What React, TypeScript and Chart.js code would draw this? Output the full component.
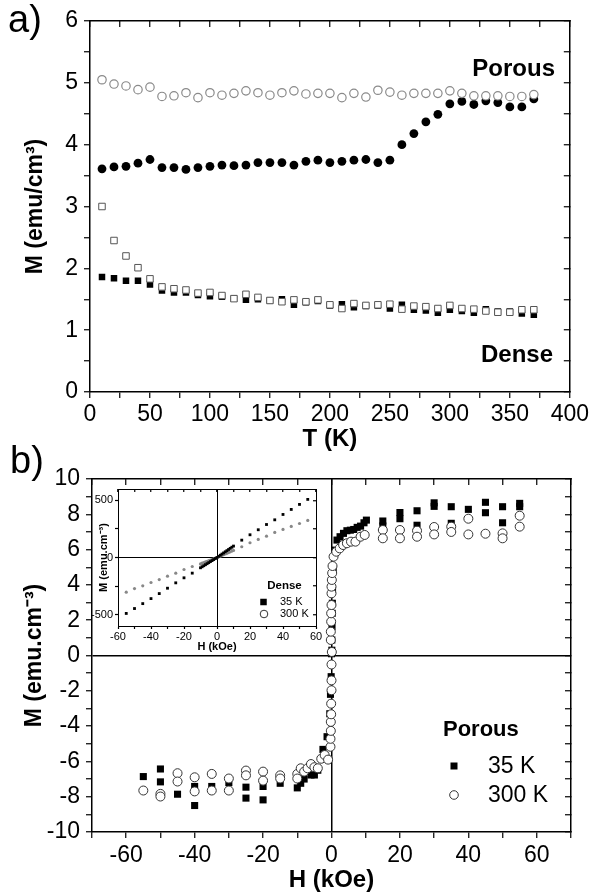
import React, { useEffect, useRef } from "react";
import { Chart, registerables } from "chart.js";

Chart.register(...registerables);

const FONT = "'Liberation Sans', Arial, Helvetica, sans-serif";

// ---------------- Panel a : M vs T ----------------
const temperatureK = [10, 20, 30, 40, 50, 60, 70, 80, 90, 100, 110, 120, 130, 140, 150, 160, 170, 180, 190, 200, 210, 220, 230, 240, 250, 260, 270, 280, 290, 300, 310, 320, 330, 340, 350, 360, 370];
const porousOpenM = [5.05, 4.98, 4.95, 4.89, 4.93, 4.78, 4.79, 4.84, 4.76, 4.84, 4.8, 4.83, 4.87, 4.84, 4.8, 4.84, 4.87, 4.82, 4.83, 4.83, 4.76, 4.83, 4.77, 4.88, 4.85, 4.8, 4.83, 4.83, 4.83, 4.87, 4.83, 4.79, 4.79, 4.79, 4.78, 4.78, 4.81];
const porousFilledM = [3.61, 3.64, 3.65, 3.7, 3.76, 3.63, 3.63, 3.6, 3.63, 3.65, 3.67, 3.66, 3.67, 3.71, 3.71, 3.71, 3.67, 3.73, 3.75, 3.71, 3.73, 3.75, 3.76, 3.71, 3.75, 4.0, 4.18, 4.37, 4.49, 4.66, 4.7, 4.65, 4.71, 4.68, 4.61, 4.61, 4.74];
const denseOpenM = [3.0, 2.45, 2.2, 2.01, 1.83, 1.7, 1.67, 1.65, 1.6, 1.61, 1.56, 1.51, 1.58, 1.53, 1.48, 1.46, 1.49, 1.46, 1.49, 1.41, 1.35, 1.43, 1.4, 1.41, 1.42, 1.34, 1.39, 1.38, 1.35, 1.4, 1.35, 1.34, 1.31, 1.29, 1.29, 1.33, 1.33];
const denseFilledM = [1.86, 1.84, 1.8, 1.8, 1.74, 1.64, 1.61, 1.61, 1.57, 1.55, 1.54, 1.51, 1.49, 1.5, 1.48, 1.5, 1.41, 1.45, 1.47, 1.4, 1.42, 1.37, 1.39, 1.4, 1.35, 1.41, 1.33, 1.32, 1.28, 1.33, 1.31, 1.28, 1.34, 1.3, 1.3, 1.27, 1.25];
const aTempTicks = [0, 25, 50, 75, 100, 125, 150, 175, 200, 225, 250, 275, 300, 325, 350, 375, 400];
const aTempLabels = [0, 50, 100, 150, 200, 250, 300, 350, 400];
const aMTicks = [0, 0.5, 1, 1.5, 2, 2.5, 3, 3.5, 4, 4.5, 5, 5.5, 6];
const aMLabels = [0, 1, 2, 3, 4, 5, 6];

// ---------------- Panel b : porous M vs H ----------------
const porous35H = [-55, -50, -50, -45, -40, -40, -35, -30, -25, -25, -20, -20, -15, -10, -9, -8, -6, -5, -4, -2.5, -1.3, -0.5, -0.3, -0.1, 0, 0.1, 0.1, 0.15, 0.2, 0.25, 0.3, 0.5, 1.1, 1.6, 2.5, 3.5, 4.5, 5.5, 6.5, 7.5, 8.5, 9.5, 10.2, 15, 15, 20, 20, 25, 25, 30, 30, 35, 35, 40, 45, 45, 50, 50, 55, 55];
const porous35M = [-6.86, -6.43, -7.16, -7.86, -7.42, -8.5, -7.42, -7.2, -7.46, -8.08, -7.42, -8.18, -7.24, -7.5, -7.24, -7.0, -6.77, -6.77, -6.5, -5.32, -4.6, -3.3, -2.2, -1.2, 0.1, 0.3, 0.88, 1.64, 2.39, 2.96, 3.71, 4.88, 5.97, 6.54, 6.73, 6.92, 7.07, 7.1, 7.14, 7.26, 7.33, 7.52, 7.67, 7.62, 7.34, 8.1, 7.75, 8.2, 7.38, 8.65, 8.45, 8.43, 7.49, 8.28, 8.68, 8.09, 8.43, 7.52, 8.62, 8.43];
const porous300H = [-55, -50, -50, -45, -45, -40, -40, -35, -35, -30, -30, -25, -25, -20, -20, -15, -15, -10, -10, -9, -8, -7, -6, -5, -4, -3, -2, -1, -0.3, -0.3, -0.2, -0.2, -0.1, -0.1, 0, 0, 0, 0.1, -0.2, -0.2, -0.1, -0.1, 0, 0, 0, 0.1, 0.2, 0.3, 0.6, 1.4, 2.4, 3.4, 4.5, 5.7, 7.0, 8.5, 9.7, 15, 15, 20, 20, 25, 25, 30, 30, 35, 35, 40, 40, 45, 50, 50, 55, 55];
const porous300M = [-7.65, -7.84, -7.99, -6.67, -7.14, -6.9, -7.7, -6.71, -7.65, -6.97, -7.65, -6.52, -6.79, -6.58, -7.09, -6.79, -6.97, -6.71, -6.97, -6.39, -6.58, -6.39, -6.15, -6.33, -6.39, -5.85, -5.64, -5.9, -5.17, -4.72, -4.27, -3.76, -3.33, -2.73, -1.97, -1.41, -0.51, 0.2, 0.88, 1.35, 1.92, 2.39, 2.86, 3.52, 3.9, 4.28, 4.67, 5.07, 5.6, 5.88, 6.07, 6.26, 6.36, 6.45, 6.45, 6.73, 6.83, 7.11, 6.64, 7.11, 6.64, 7.07, 6.73, 7.28, 6.86, 7.3, 7.0, 7.75, 6.86, 6.9, 6.92, 6.64, 7.92, 7.3];
const bHTicks = [-70, -60, -50, -40, -30, -20, -10, 0, 10, 20, 30, 40, 50, 60, 70];
const bHLabels = [-60, -40, -20, 0, 20, 40, 60];
const bMTicks = [-10, -9, -8, -7, -6, -5, -4, -3, -2, -1, 0, 1, 2, 3, 4, 5, 6, 7, 8, 9, 10];
const bMLabels = [-10, -8, -6, -4, -2, 0, 2, 4, 6, 8, 10];

// ---------------- Inset : dense M vs H ----------------
const denseH = [-55, -50, -45, -40, -35, -30, -25, -20, -15, -10, -9, -8, -7, -6, -5, -4, -3, -2, -1, 0, 1, 2, 3, 4, 5, 6, 7, 8, 9, 10, 15, 20, 25, 30, 35, 40, 45, 50, 55];
const dense35M = [-490, -447, -404, -360, -316, -269, -222, -178, -137, -90, -81, -72, -63, -54, -45, -36, -27, -18, -9, 0, 10, 20, 30, 40, 50, 60, 70, 80, 90, 100, 152, 199, 243, 289, 330, 377, 421, 465, 509];
const dense300M = [-304, -272, -248, -219, -193, -164, -137, -105, -79, -56, -50, -45, -39, -33, -28, -22, -17, -11, -6, 0, 6, 12, 18, 24, 31, 37, 43, 50, 56, 62, 94, 129, 158, 187, 220, 246, 272, 298, 325];
const iHTicks = [-60, -50, -40, -30, -20, -10, 0, 10, 20, 30, 40, 50, 60];
const iHLabels = [-60, -40, -20, 0, 20, 40, 60];
const iMTicks = [-500, -250, 0, 250, 500];
const iMLabels = [-500, 0, 500];

const pts = (xs: number[], ys: number[]) => xs.map((x, i) => ({ x, y: ys[i] }));

type AxisOpt = {
  id: "x" | "y";
  position: "left" | "right" | "top" | "bottom";
  min: number;
  max: number;
  ticks: number[];
  labels?: number[];
  size: number;
  tick: number;
  font?: number;
  pad?: number;
  title?: string;
  titleSize?: number;
  titlePad?: any;
  zero?: boolean;
  zeroWidth?: number;
  border?: number;
};

function axis(o: AxisOpt) {
  const horizontal = o.position === "top" || o.position === "bottom";
  return {
    type: "linear",
    axis: o.id,
    position: o.position,
    min: o.min,
    max: o.max,
    afterBuildTicks: (s: any) => {
      s.ticks = o.ticks.map((v) => ({ value: v }));
    },
    afterFit: (s: any) => {
      if (horizontal) s.height = o.size;
      else s.width = o.size;
    },
    ticks: {
      display: !!o.labels,
      autoSkip: false,
      maxRotation: 0,
      minRotation: 0,
      color: "#000",
      padding: o.pad ?? 4,
      font: { family: FONT, size: o.font ?? 23 },
      callback: (v: number) => (o.labels && o.labels.includes(v) ? String(v) : ""),
    },
    grid: {
      display: true,
      drawOnChartArea: !!o.zero,
      color: (c: any) => (o.zero && c.tick && c.tick.value === 0 ? "#000" : "rgba(0,0,0,0)"),
      lineWidth: o.zeroWidth ?? 1.5,
      drawTicks: true,
      tickLength: o.tick,
      tickColor: "#000",
      tickWidth: 1.2,
    },
    border: { display: true, color: "#000", width: o.border ?? 1.5 },
    title: o.title
      ? {
          display: true,
          text: o.title,
          color: "#000",
          font: { family: FONT, size: o.titleSize ?? 24, weight: "bold" },
          padding: o.titlePad ?? 0,
        }
      : { display: false },
  };
}

type Txt = { text: string; x: number; y: number; size: number; bold?: boolean; align?: CanvasTextAlign };
type Mark = { kind: "square" | "circle"; x: number; y: number; s: number; color: string };

function annotations(id: string, texts: Txt[], marks: Mark[] = []) {
  return {
    id,
    afterDraw(chart: any) {
      const ctx = chart.ctx as CanvasRenderingContext2D;
      ctx.save();
      ctx.textBaseline = "middle";
      for (const t of texts) {
        ctx.fillStyle = "#000";
        ctx.font = `${t.bold ? "bold " : ""}${t.size}px ${FONT}`;
        ctx.textAlign = t.align ?? "left";
        ctx.fillText(t.text, t.x, t.y);
      }
      for (const m of marks) {
        if (m.kind === "square") {
          ctx.fillStyle = m.color;
          ctx.fillRect(m.x - m.s / 2, m.y - m.s / 2, m.s, m.s);
        } else {
          ctx.beginPath();
          ctx.arc(m.x, m.y, m.s, 0, Math.PI * 2);
          ctx.fillStyle = "#fff";
          ctx.fill();
          ctx.lineWidth = 1;
          ctx.strokeStyle = m.color;
          ctx.stroke();
        }
      }
      ctx.restore();
    },
  };
}

const common = {
  responsive: false,
  maintainAspectRatio: false,
  animation: false,
  events: [],
  layout: { padding: 0 },
  plugins: { legend: { display: false }, tooltip: { enabled: false } },
};

export default function App() {
  const aRef = useRef<HTMLCanvasElement>(null);
  const bRef = useRef<HTMLCanvasElement>(null);
  const iRef = useRef<HTMLCanvasElement>(null);

  useEffect(() => {
    const charts: Chart[] = [];

    // Panel a  (canvas at page 0,0 ; 592x458) chart area 90..570 x 21..392
    charts.push(
      new Chart(aRef.current as HTMLCanvasElement, {
        type: "scatter",
        data: {
          datasets: [
            { data: pts(temperatureK, porousOpenM), pointStyle: "circle", pointRadius: 4.2, pointBorderWidth: 1.2, pointBorderColor: "#8a8a8a", pointBackgroundColor: "#fff" },
            { data: pts(temperatureK, denseOpenM), pointStyle: "rect", pointRadius: 4.6, pointBorderWidth: 1, pointBorderColor: "#555", pointBackgroundColor: "#fff" },
            { data: pts(temperatureK, porousFilledM), pointStyle: "circle", pointRadius: 4.4, pointBorderWidth: 0, pointBorderColor: "#000", pointBackgroundColor: "#000" },
            { data: pts(temperatureK, denseFilledM), pointStyle: "rect", pointRadius: 4.6, pointBorderWidth: 0, pointBorderColor: "#000", pointBackgroundColor: "#000" },
          ],
        },
        options: {
          ...common,
          scales: {
            x: axis({ id: "x", position: "bottom", min: 0, max: 400, ticks: aTempTicks, labels: aTempLabels, size: 66, tick: 6, pad: 3, title: "T (K)", titleSize: 24, titlePad: { top: 0, bottom: 4 } }),
            x2: axis({ id: "x", position: "top", min: 0, max: 400, ticks: aTempTicks, size: 21, tick: -6 }),
            y: axis({ id: "y", position: "left", min: 0, max: 6, ticks: aMTicks, labels: aMLabels, size: 90, tick: 6, pad: 6, title: "M (emu/cm³)", titleSize: 23, titlePad: { top: 22, bottom: 0 } }),
            y2: axis({ id: "y", position: "right", min: 0, max: 6, ticks: aMTicks, size: 22, tick: -6 }),
          },
        } as any,
        plugins: [
          annotations("annotA", [
            { text: "a)", x: 8, y: 22, size: 38 },
            { text: "Porous", x: 555, y: 69, size: 24, bold: true, align: "right" },
            { text: "Dense", x: 553, y: 355, size: 24, bold: true, align: "right" },
          ]),
        ],
      } as any)
    );

    // Panel b (canvas at page 0,440 ; 592x455) chart area 92..571 x 39..392
    charts.push(
      new Chart(bRef.current as HTMLCanvasElement, {
        type: "scatter",
        data: {
          datasets: [
            { data: pts(porous300H, porous300M), pointStyle: "circle", pointRadius: 4.5, pointBorderWidth: 1, pointBorderColor: "#333", pointBackgroundColor: "#fff" },
            { data: pts(porous35H, porous35M), pointStyle: "rect", pointRadius: 5, pointBorderWidth: 0, pointBorderColor: "#000", pointBackgroundColor: "#000" },
          ],
        },
        options: {
          ...common,
          scales: {
            x: axis({ id: "x", position: "bottom", min: -70, max: 70, ticks: bHTicks, labels: bHLabels, size: 63, tick: 6, pad: 4, title: "H (kOe)", titleSize: 24, titlePad: { top: 0, bottom: 0 }, zero: true }),
            x2: axis({ id: "x", position: "top", min: -70, max: 70, ticks: bHTicks, size: 39, tick: -6 }),
            y: axis({ id: "y", position: "left", min: -10, max: 10, ticks: bMTicks, labels: bMLabels, size: 92, tick: 6, pad: 6, title: "M (emu.cm⁻³)", titleSize: 23, titlePad: { top: 21, bottom: 0 }, zero: true }),
            y2: axis({ id: "y", position: "right", min: -10, max: 10, ticks: bMTicks, size: 21, tick: -6 }),
          },
        } as any,
        plugins: [
          annotations(
            "annotB",
            [
              { text: "b)", x: 10, y: 23, size: 38 },
              { text: "Porous", x: 443, y: 290, size: 22, bold: true },
              { text: "35 K", x: 488, y: 327, size: 23 },
              { text: "300 K", x: 488, y: 356, size: 23 },
            ],
            [
              { kind: "square", x: 454, y: 326, s: 7, color: "#000" },
              { kind: "circle", x: 454, y: 355, s: 4.3, color: "#333" },
            ]
          ),
        ],
      } as any)
    );

    // Inset (canvas at page 90,480 ; 236x176) chart area 28..226 x 9..146
    charts.push(
      new Chart(iRef.current as HTMLCanvasElement, {
        type: "scatter",
        data: {
          datasets: [
            { data: pts(denseH, dense35M), pointStyle: "rect", pointRadius: 2, pointBorderWidth: 0, pointBorderColor: "#000", pointBackgroundColor: "#000" },
            { data: pts(denseH, dense300M), pointStyle: "circle", pointRadius: 1.6, pointBorderWidth: 0, pointBorderColor: "#888", pointBackgroundColor: "#888" },
          ],
        },
        options: {
          ...common,
          scales: {
            x: axis({ id: "x", position: "bottom", min: -60, max: 60, ticks: iHTicks, labels: iHLabels, size: 30, tick: 3, pad: 1, font: 11, title: "H (kOe)", titleSize: 11, titlePad: { top: 0, bottom: 2 }, zero: true, zeroWidth: 1, border: 1 }),
            x2: axis({ id: "x", position: "top", min: -60, max: 60, ticks: iHTicks, size: 9, tick: -3, border: 1 }),
            y: axis({ id: "y", position: "left", min: -600, max: 600, ticks: iMTicks, labels: iMLabels, size: 28, tick: 3, pad: 2, font: 11, title: "M (emu.cm⁻³)", titleSize: 11, titlePad: { top: 7, bottom: 0 }, zero: true, zeroWidth: 1, border: 1 }),
            y2: axis({ id: "y", position: "right", min: -600, max: 600, ticks: iMTicks, size: 10, tick: -3, border: 1 }),
          },
        } as any,
        plugins: [
          annotations(
            "annotI",
            [
              { text: "Dense", x: 194.5, y: 106, size: 11.5, bold: true, align: "center" },
              { text: "35 K", x: 190, y: 122, size: 11 },
              { text: "300 K", x: 190, y: 134, size: 11 },
            ],
            [
              { kind: "square", x: 173.5, y: 122, s: 6.5, color: "#000" },
              { kind: "circle", x: 174, y: 134, s: 3.8, color: "#333" },
            ]
          ),
        ],
      } as any)
    );

    return () => charts.forEach((c) => c.destroy());
  }, []);

  return (
    <div style={{ position: "absolute", left: 0, top: 0, width: 592, height: 895, background: "#fff" }}>
      <canvas ref={aRef} width={592} height={458} style={{ position: "absolute", left: 0, top: 0 }} />
      <canvas ref={bRef} width={592} height={455} style={{ position: "absolute", left: 0, top: 440 }} />
      <canvas ref={iRef} width={236} height={176} style={{ position: "absolute", left: 90, top: 480 }} />
    </div>
  );
}
